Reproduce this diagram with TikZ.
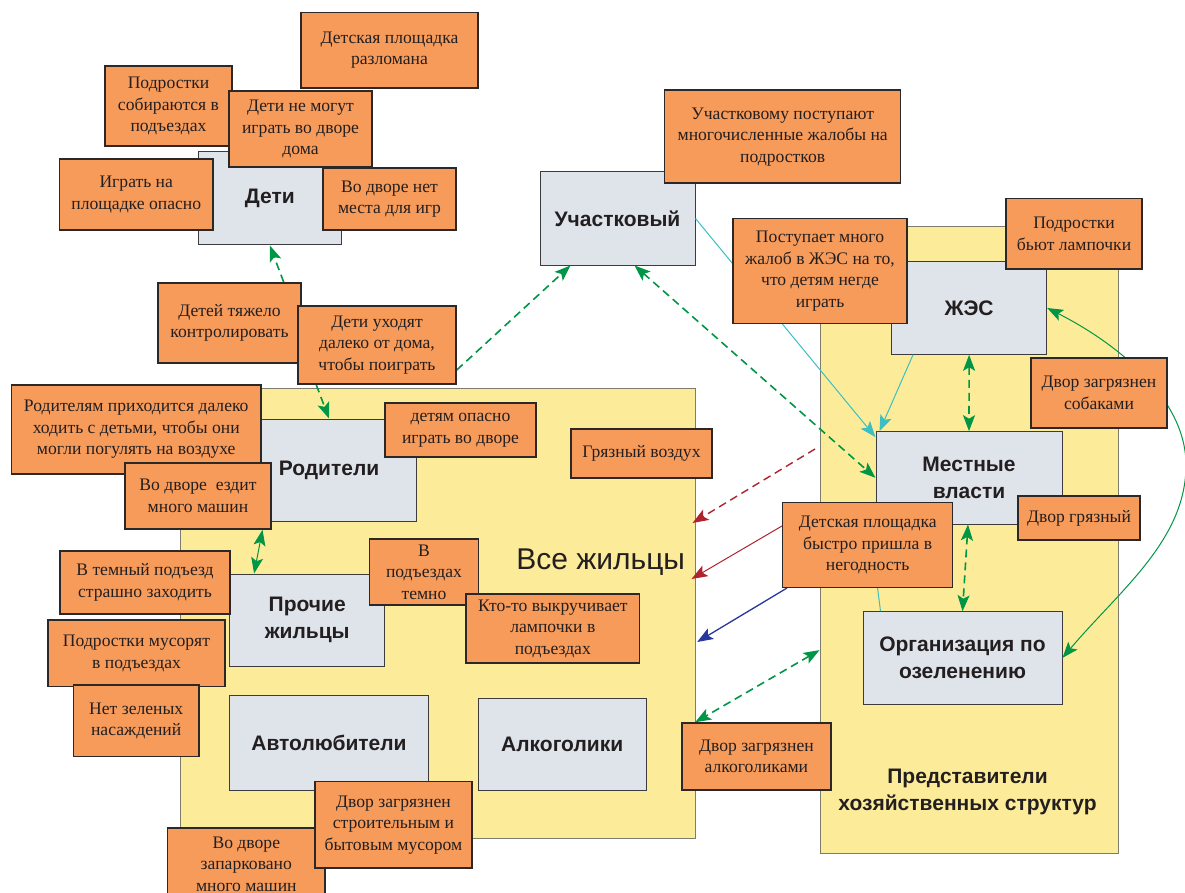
\documentclass[tikz,border=0pt]{standalone}
\usepackage{fontspec}
\setmainfont{Liberation Serif}
\newfontfamily\sansf{Liberation Sans}
\usetikzlibrary{arrows.meta,calc}
\pgfdeclarelayer{bglayer}
\pgfdeclarelayer{connlayer}
\pgfsetlayers{bglayer,connlayer,main}
\definecolor{orng}{RGB}{247,155,91}
\definecolor{obord}{RGB}{45,40,40}
\definecolor{greyf}{RGB}{223,227,234}
\definecolor{gbord}{RGB}{60,60,60}
\definecolor{yelf}{RGB}{252,236,153}
\definecolor{ybord}{RGB}{125,125,110}
\definecolor{grn}{RGB}{0,150,70}
\definecolor{cyn}{RGB}{60,190,195}
\definecolor{dred}{RGB}{175,35,45}
\definecolor{dblue}{RGB}{40,55,155}
\definecolor{txt}{RGB}{35,31,32}
\tikzset{
  obox/.style={draw=obord, line width=1.5pt, fill=orng, font=\fontsize{17.6}{21.5}\selectfont, align=center, inner sep=1pt, text=txt},
  gbox/.style={draw=gbord, line width=1pt, fill=greyf, font=\sansf\bfseries\fontsize{21}{27}\selectfont, align=center, inner sep=1pt, text=txt},
  ybox/.style={draw=ybord, line width=1pt, fill=yelf, inner sep=0pt},
  gdash/.style={draw=grn, line width=1.6pt, dash pattern=on 8pt off 5pt},
  gthin/.style={draw=grn, line width=1pt},
  cthin/.style={draw=cyn, line width=1pt},
  >={Stealth[length=16pt,width=12pt,inset=3.5pt]}
}
\begin{document}
\begin{tikzpicture}[x=1pt,y=-1pt]
\useasboundingbox (0,0) rectangle (1185,893);
% orange problem boxes (top layer)
\node[obox, minimum width=177pt, minimum height=75.5pt] (dpr) at (389.5,50.25) {Детская площадка\\разломана};
\node[obox, minimum width=127pt, minimum height=80pt] (pod) at (168.5,106) {Подростки\\собираются в\\подъездах};
\node[obox, minimum width=143pt, minimum height=76pt] (dnm) at (300.5,129) {Дети не могут\\играть во дворе\\дома};
\node[obox, minimum width=153.5pt, minimum height=71pt] (igr) at (136.25,194.5) {Играть на\\площадке опасно};
\node[obox, minimum width=133pt, minimum height=62pt] (vdn) at (389.5,199) {Во дворе нет\\места для игр};
\node[obox, minimum width=143pt, minimum height=80pt] (dtk) at (229.5,323) {Детей тяжело\\контролировать};
\node[obox, minimum width=158pt, minimum height=78pt] (duh) at (377,345) {Дети уходят\\далеко от дома,\\чтобы поиграть};
\node[obox, minimum width=236pt, minimum height=93pt] (uchm) at (782.7,136.7) {Участковому поступают\\многочисленные жалобы на\\подростков};
\node[obox, minimum width=174pt, minimum height=104.6pt] (pmj) at (820,271) {Поступает много\\жалоб в ЖЭС на то,\\что детям негде\\играть};
\node[obox, minimum width=136pt, minimum height=70.7pt] (pbl) at (1074,233.7) {Подростки\\бьют лампочки};
\node[obox, minimum width=136pt, minimum height=70pt] (dzs) at (1099,393) {Двор загрязнен\\собаками};
\node[obox, minimum width=122pt, minimum height=44pt] (dg) at (1079,518) {Двор грязный};
\node[obox, minimum width=170pt, minimum height=84.6pt] (dpbn) at (867.7,545) {Детская площадка\\быстро пришла в\\негодность};
\node[obox, minimum width=149pt, minimum height=67pt] (dza) at (756.4,756.5) {Двор загрязнен\\алкоголиками};
\node[obox, minimum width=249.5pt, minimum height=89pt] (rodt) at (136.25,429.5) {Родителям приходится далеко\\ходить с детьми, чтобы они\\могли погулять на воздухе};
\node[obox, minimum width=151pt, minimum height=54pt] (dop) at (460.5,430) {детям опасно\\играть во дворе};
\node[obox, minimum width=141pt, minimum height=49pt] (gv) at (641.5,453.5) {Грязный воздух};
\node[obox, minimum width=146pt, minimum height=66pt] (vdem) at (198,496) {Во дворе\enspace ездит\\много машин};
\node[obox, minimum width=170pt, minimum height=63pt] (vtp) at (145,582.3) {В темный подъезд\\страшно заходить};
\node[obox, minimum width=109pt, minimum height=66pt] (vpt) at (424,572) {В\\подъездах\\темно};
\node[obox, minimum width=173.6pt, minimum height=69pt] (kto) at (552.8,628.5) {Кто-то выкручивает\\лампочки в\\подъездах};
\node[obox, minimum width=177pt, minimum height=66.7pt] (pms) at (136.5,653.3) {Подростки мусорят\\в подъездах};
\node[obox, minimum width=125.3pt, minimum height=71.7pt] (nzn) at (136.2,720.8) {Нет зеленых\\насаждений};
\node[obox, minimum width=157.4pt, minimum height=72pt] (vdz) at (246.3,864) {Во дворе\\запарковано\\много машин};
\node[obox, minimum width=157pt, minimum height=86.3pt] (dzsm) at (393.5,824.8) {Двор загрязнен\\строительным и\\бытовым мусором};
% yellow groups and grey actors (bottom layer)
\begin{pgfonlayer}{bglayer}
\node[ybox, minimum width=515.6pt, minimum height=450pt] (allres) at (437.8,613) {};
\node[ybox, minimum width=298pt, minimum height=626.3pt] (hoz) at (969,540.15) {};
\node[font=\sansf\fontsize{30}{36}\selectfont, text=txt] (allreslbl) at (600.7,562) {Все жильцы};
\node[font=\sansf\bfseries\fontsize{21}{27}\selectfont, align=center, text=txt] (hozlbl) at (967.5,792) {Представители\\хозяйственных структур};
\node[gbox, minimum width=143.7pt, minimum height=93pt] (deti) at (269.85,198.5) {Дети};
\node[gbox, minimum width=155pt, minimum height=93pt] (uchk) at (617.5,218.5) {Участковый};
\node[gbox, minimum width=155.2pt, minimum height=92.6pt] (zhes) at (969.1,308) {ЖЭС};
\node[gbox, minimum width=186pt, minimum height=92.3pt] (mv) at (969,477.85) {Местные\\власти};
\node[gbox, minimum width=199pt, minimum height=92.3pt] (org) at (962.5,657.85) {Организация по\\озеленению};
\node[gbox, minimum width=174pt, minimum height=102pt] (rodg) at (329,470) {Родители};
\node[gbox, minimum width=155.2pt, minimum height=92.7pt] (proch) at (307.2,620.35) {Прочие\\жильцы};
\node[gbox, minimum width=198.8pt, minimum height=95.7pt] (avto) at (329,742.85) {Автолюбители};
\node[gbox, minimum width=167.6pt, minimum height=92.7pt] (alko) at (562.2,744.35) {Алкоголики};
\end{pgfonlayer}
% connectors (middle layer)
\begin{pgfonlayer}{connlayer}
\draw[gdash,->] ([xshift=-18pt]dtk.north east) -- (deti.south);
\draw[gdash,->] ([xshift=19pt]duh.south west) -- (rodg.north);
\draw[gdash,->] ([yshift=-25pt]duh.east) -- ([xshift=-47pt]uchk.south);
\draw[gdash,<->] ([xshift=17pt]uchk.south) -- (mv.west);
\draw[cthin,->] (uchk.east) -- ([yshift=-6pt]mv.north west);
\draw[cthin,->] ([xshift=22pt]zhes.south west) -- ([xshift=4pt]mv.north west);
\draw[gdash,<->] (zhes.south) -- (mv.north);
\draw[gdash,<->] ([xshift=-1pt]mv.south) -- (org.north);
\draw[cthin] ([xshift=-6pt]mv.south west) -- ([xshift=18pt]org.north west);
\coordinate (loopmid) at (1186,465);
\draw[gthin,<->] (zhes.east) .. controls (1120,345) and (1186,400) .. (loopmid) .. controls (1186,540) and (1120,590) .. (org.east);
\coordinate (rds) at (815,449);
\draw[draw=dred, line width=1.4pt, dash pattern=on 8pt off 5pt, ->] (rds) -- ([xshift=-3.6pt,yshift=90pt]allres.east);
\draw[draw=dred, line width=1pt, ->] ([yshift=19pt]dpbn.west) -- ([xshift=-4.6pt,yshift=34pt]allres.east);
\draw[draw=dblue, line width=1.3pt, ->] ([xshift=5pt]dpbn.south west) -- ([xshift=1pt,yshift=-29pt]allres.east);
\draw[gdash,<->] ([yshift=-110pt]hoz.west) -- ([xshift=14pt]dza.north west);
\draw[gthin,<->] ([xshift=64.5pt]vdem.south) -- ([xshift=25pt]proch.north west);
\end{pgfonlayer}
\end{tikzpicture}
\end{document}
